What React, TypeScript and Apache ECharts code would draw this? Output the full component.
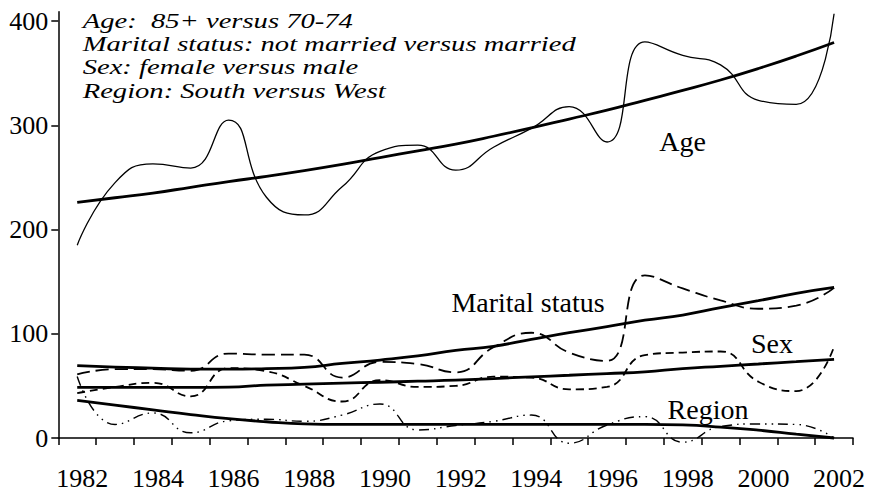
import React, { useEffect, useRef } from "react";
import * as echarts from "echarts";

const years = ["1982","1983","1984","1985","1986","1987","1988","1989","1990","1991","1992","1993","1994","1995","1996","1997","1998","1999","2000","2001","2002"];
const yTicks = [0, 100, 200, 300, 400];

const ageObserved = [185, 245, 263, 259, 305, 231, 214, 241, 275, 281, 257, 279, 297, 318, 284, 380, 367, 358, 324, 320, 407];
const ageTrend = [226, 230.5, 235, 240.5, 246, 251, 256.5, 262.5, 269, 275.5, 282, 289.5, 297.5, 306, 314.5, 324, 333.5, 343.5, 354.5, 366.5, 379.5];

const maritalObserved = [61, 66, 66, 64.5, 81, 80, 80, 58, 73, 71, 63, 87, 101, 82, 74, 156, 143.5, 132, 124, 127, 144];
const maritalTrend = [69.5, 68, 67, 66, 66, 66.5, 67.8, 71.5, 74.8, 78.7, 84, 88, 94.6, 101, 106.8, 113, 118, 125, 131.7, 138.8, 144.5];

const sexObserved = [43, 49, 53, 40, 67, 64, 50, 35, 55.5, 49, 50, 58.8, 58, 46.7, 49, 79.6, 82, 83, 54, 45, 87.6];
const sexTrend = [48.5, 48.5, 48.5, 48.5, 48.8, 50.7, 51.6, 52.6, 53.5, 54.5, 55.5, 57, 58.7, 60.2, 61.8, 63.4, 66.6, 68.8, 71, 73.3, 75.5];

const regionObserved = [59, 13, 24, 5, 16.5, 18, 16, 22, 32.6, 7.7, 12, 16, 22, -5, 12.5, 20.5, -4, 11, 13.5, 13, 0];
const regionTrend = [36, 31.5, 27, 22.5, 18.5, 15.6, 13.5, 13, 13, 13, 13, 13, 13, 13, 13, 13, 12.5, 10.5, 7.5, 3.7, 0];

const annotationLines = [
  "Age:  85+ versus 70-74",
  "Marital status: not married versus married",
  "Sex: female versus male",
  "Region: South versus West",
];

const SERIF = "Liberation Serif";

function lineSeries(name: string, data: number[], width: number, type: any) {
  return {
    name,
    type: "line",
    data,
    smooth: true,
    symbol: "none",
    clip: false,
    silent: true,
    lineStyle: { color: "#000", width, type },
  };
}

function plotLabel(text: string, x: number, y: number) {
  return {
    type: "text",
    x,
    y,
    silent: true,
    style: {
      text,
      fill: "#000",
      fontFamily: SERIF,
      fontSize: 28,
      textAlign: "center",
      textVerticalAlign: "middle",
    },
  };
}

export default function App() {
  const ref = useRef<HTMLDivElement>(null);
  useEffect(() => {
    if (!ref.current) return;
    const chart = echarts.init(ref.current, undefined, { renderer: "svg" });
    const trendW = 2.8;
    const annLines = [20.5, 43.8, 67, 90.3];
    chart.setOption({
      animation: false,
      backgroundColor: "#fff",
      textStyle: { fontFamily: SERIF },
      grid: { left: 58.3, right: 23, top: 11.7, bottom: 52, containLabel: false },
      xAxis: {
        type: "category",
        data: years,
        boundaryGap: true,
        axisLine: { lineStyle: { color: "#000", width: 1.5 } },
        axisTick: { show: true, interval: 0, length: 7, lineStyle: { color: "#000", width: 1.5 } },
        axisLabel: {
          interval: 1,
          color: "#000",
          fontFamily: SERIF,
          fontSize: 26,
          margin: 27,
          padding: [0, 0, 0, 10],
        },
        splitLine: { show: false },
      },
      yAxis: {
        type: "value",
        min: 0,
        max: 409,
        interval: 100,
        axisLine: { show: true, lineStyle: { color: "#000", width: 1.5 } },
        axisTick: { show: true, length: 7, customValues: yTicks, lineStyle: { color: "#000", width: 1.5 } },
        axisLabel: {
          customValues: yTicks,
          color: "#000",
          fontFamily: SERIF,
          fontSize: 26,
          margin: 10,
          padding: [4, 0, 0, 0],
        },
        splitLine: { show: false },
      },
      series: [
        lineSeries("Age", ageObserved, 1.3, "solid"),
        lineSeries("Age trend", ageTrend, trendW, "solid"),
        lineSeries("Marital status", maritalObserved, 1.8, [13, 6]),
        lineSeries("Marital status trend", maritalTrend, trendW, "solid"),
        lineSeries("Sex", sexObserved, 1.8, [8, 5]),
        lineSeries("Sex trend", sexTrend, trendW, "solid"),
        lineSeries("Region", regionObserved, 1.4, [10, 5, 1.5, 5, 1.5, 5]),
        lineSeries("Region trend", regionTrend, trendW, "solid"),
      ],
      graphic: [
        ...annotationLines.map((t, i) => ({
          type: "text",
          x: 82.7,
          y: annLines[i],
          scaleX: 1.3,
          silent: true,
          style: {
            text: t,
            fill: "#000",
            fontFamily: SERIF,
            fontStyle: "italic",
            fontSize: 22,
            textAlign: "left",
            textVerticalAlign: "middle",
          },
        })),
        plotLabel("Age", 682.5, 141.3),
        plotLabel("Marital status", 528, 302),
        plotLabel("Sex", 772, 343),
        plotLabel("Region", 708, 409.5),
      ],
    });
    return () => chart.dispose();
  }, []);
  return (
    <div
      ref={ref}
      style={{ position: "fixed", left: 0, top: 0, width: 876, height: 491, background: "#fff" }}
    />
  );
}
